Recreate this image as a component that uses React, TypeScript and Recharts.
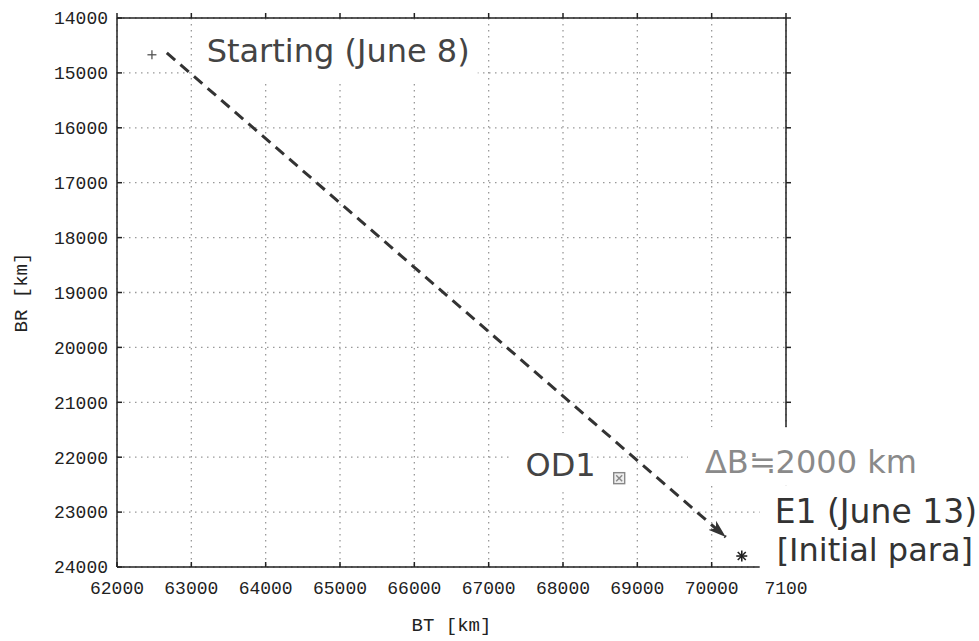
import { ScatterChart, Scatter, XAxis, YAxis, CartesianGrid } from "recharts";

// axis ticks
const btTicks = [62000, 63000, 64000, 65000, 66000, 67000, 68000, 69000, 70000, 71000];
const brTicks = [14000, 15000, 16000, 17000, 18000, 19000, 20000, 21000, 22000, 23000, 24000];

// dashed trajectory (start -> E1 arrow tip)
const trackBT = [62670, 70190];
const trackBR = [14636, 23455];

// markers
const startBT = [62470];
const startBR = [14670];
const od1BT = [68756];
const od1BR = [22382];
const e1BT = [70405];
const e1BR = [23800];

// text annotations, anchored at their left/middle in data units
const noteText = ["Starting (June 8)", "OD1", "ΔB≒2000 km", "E1 (June 13)", "[Initial para]"];
const noteBT = [63206, 67496, 69909, 70847, 70874];
const noteBR = [14600, 22145, 22091, 22982, 23691];

const NOTE_COLORS = ["#444", "#444", "#8a8a8a", "#333", "#333"];
const NOTE_SIZES = [32, 32, 32, 33, 32];
// white box behind each label (left, top, right, bottom padding in px)
const NOTE_PADS = [
  [14, 28, 10, 30],
  [14, 32, 20, 27],
  [17, 35, 80, 23],
  [15, 26, 20, 20],
  [17, 20, 20, 28],
];
const TICK_FONT = { fontFamily: "Liberation Mono", fontSize: 18, fill: "#222" };

const toPoints = (bt: number[], br: number[]) => bt.map((v, i) => ({ bt: v, br: br[i] }));

const track = toPoints(trackBT, trackBR);
const start = toPoints(startBT, startBR);
const od1 = toPoints(od1BT, od1BR);
const e1 = toPoints(e1BT, e1BR);
const notes = noteText.map((t, i) => ({ bt: noteBT[i], br: noteBR[i], text: t, idx: i }));

const Plus = (p: any) => (
  <g stroke="#555" strokeWidth={1.3}>
    <line x1={p.cx - 4.5} x2={p.cx + 4.5} y1={p.cy} y2={p.cy} />
    <line x1={p.cx} x2={p.cx} y1={p.cy - 4.5} y2={p.cy + 4.5} />
  </g>
);

const BoxX = (p: any) => (
  <g stroke="#888" strokeWidth={1.4} fill="#eee">
    <rect x={p.cx - 5.5} y={p.cy - 5.5} width={11} height={11} />
    <line x1={p.cx - 3} x2={p.cx + 3} y1={p.cy - 3} y2={p.cy + 3} />
    <line x1={p.cx - 3} x2={p.cx + 3} y1={p.cy + 3} y2={p.cy - 3} />
  </g>
);

const Star = (p: any) => (
  <g stroke="#222" strokeWidth={1.6}>
    <line x1={p.cx - 5.5} x2={p.cx + 5.5} y1={p.cy} y2={p.cy} />
    <line x1={p.cx} x2={p.cx} y1={p.cy - 5.5} y2={p.cy + 5.5} />
    <line x1={p.cx - 4} x2={p.cx + 4} y1={p.cy - 4} y2={p.cy + 4} />
    <line x1={p.cx - 4} x2={p.cx + 4} y1={p.cy + 4} y2={p.cy - 4} />
  </g>
);

const Note = (p: any) => {
  const { text, idx } = p.payload;
  const size = NOTE_SIZES[idx];
  const [l, t, r, b] = NOTE_PADS[idx];
  const w = text.length * size * 0.48;
  return (
    <g>
      <rect x={p.cx - l} y={p.cy - t} width={w + l + r} height={t + b} fill="#fff" />
      <text
        x={p.cx}
        y={p.cy}
        dominantBaseline="central"
        fontFamily="DejaVu Sans"
        fontSize={size}
        fill={NOTE_COLORS[idx]}
      >
        {text}
      </text>
    </g>
  );
};

const Nothing = () => <g />;

export default function App() {
  return (
    <div style={{ position: "absolute", left: 0, top: 0, background: "#fff" }}>
      <ScatterChart width={979} height={641} margin={{ top: 17, right: 192, bottom: 0, left: 0 }}>
        <defs>
          <marker
            id="arrowHead"
            markerUnits="userSpaceOnUse"
            markerWidth={20}
            markerHeight={14}
            refX={18}
            refY={7}
            orient="auto"
          >
            <path d="M0,1 L18,7 L0,13 L5,7 Z" fill="#333" />
          </marker>
        </defs>
        <CartesianGrid
          xAxisId="bt"
          yAxisId="br"
          stroke="#999"
          strokeWidth={1.3}
          strokeDasharray="1.5 4.5"
        />
        <XAxis
          xAxisId="bt"
          dataKey="bt"
          type="number"
          domain={[62000, 71000]}
          ticks={btTicks}
          interval={0}
          height={74}
          tickSize={-5}
          tickMargin={19}
          tick={TICK_FONT}
          tickFormatter={(v: number) => (v === 71000 ? "7100" : String(v))}
          stroke="#222"
          strokeWidth={1.5}
          label={{
            value: "BT [km]",
            position: "insideBottom",
            offset: 10,
            style: { fontFamily: "Liberation Mono", fontSize: 19, fill: "#222" },
          }}
        />
        <XAxis
          xAxisId="top"
          orientation="top"
          dataKey="bt"
          type="number"
          domain={[62000, 71000]}
          ticks={btTicks}
          interval={0}
          height={1}
          tickSize={5}
          tickFormatter={() => ""}
          stroke="#222"
          strokeWidth={1.5}
        />
        <YAxis
          yAxisId="br"
          dataKey="br"
          type="number"
          domain={[14000, 24000]}
          reversed
          ticks={brTicks}
          interval={0}
          width={117}
          tickSize={-5}
          tickMargin={14}
          tick={TICK_FONT}
          stroke="#222"
          strokeWidth={1.5}
          label={{
            value: "BR [km]",
            angle: -90,
            position: "insideLeft",
            offset: 20,
            style: { textAnchor: "middle", fontFamily: "Liberation Mono", fontSize: 19, fill: "#222" },
          }}
        />
        <YAxis
          yAxisId="right"
          orientation="right"
          dataKey="br"
          type="number"
          domain={[14000, 24000]}
          reversed
          ticks={brTicks}
          interval={0}
          width={1}
          tickSize={5}
          tickFormatter={() => ""}
          stroke="#222"
          strokeWidth={1.5}
        />
        <Scatter xAxisId="top" yAxisId="right" data={track} shape={Nothing} isAnimationActive={false} />
        <Scatter xAxisId="bt" yAxisId="br" data={notes} shape={Note} isAnimationActive={false} />
        <Scatter
          xAxisId="bt"
          yAxisId="br"
          data={track}
          shape={Nothing}
          line={{ stroke: "#333", strokeWidth: 3, strokeDasharray: "11 7", markerEnd: "url(#arrowHead)" }}
          isAnimationActive={false}
        />
        <Scatter xAxisId="bt" yAxisId="br" data={start} shape={Plus} isAnimationActive={false} />
        <Scatter xAxisId="bt" yAxisId="br" data={od1} shape={BoxX} isAnimationActive={false} />
        <Scatter xAxisId="bt" yAxisId="br" data={e1} shape={Star} isAnimationActive={false} />
      </ScatterChart>
    </div>
  );
}
